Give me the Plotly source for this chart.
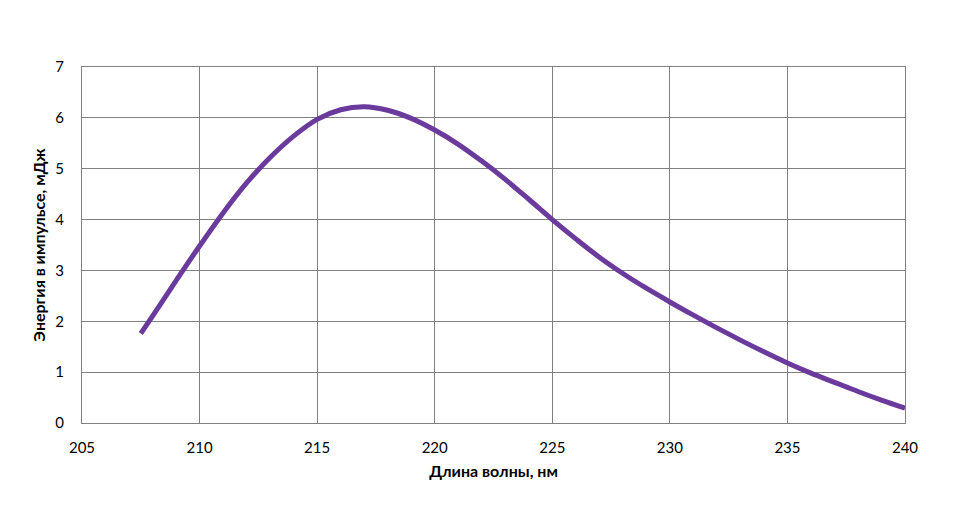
import plotly.graph_objects as go

wavelength_nm = [207.5, 208, 209, 210, 211, 212, 213, 214, 215, 216, 217, 218, 219, 220,
                 221, 222, 223, 224, 225, 226, 227, 228, 229, 230, 231, 232, 233, 234,
                 235, 236, 237, 238, 239, 240]
energy_mJ = [1.76, 2.10, 2.80, 3.48, 4.13, 4.72, 5.22, 5.64, 5.97, 6.16, 6.22, 6.15, 5.99, 5.76,
             5.48, 5.15, 4.79, 4.40, 4.00, 3.62, 3.26, 2.94, 2.65, 2.38, 2.12, 1.87, 1.63, 1.40,
             1.18, 0.98, 0.80, 0.62, 0.45, 0.29]

x_ticks = [205, 210, 215, 220, 225, 230, 235, 240]
y_ticks = [0, 1, 2, 3, 4, 5, 6, 7]

fig = go.Figure()
fig.add_trace(go.Scatter(
    x=wavelength_nm, y=energy_mJ, mode="lines",
    line=dict(color="#6A3A9C", width=5, shape="spline", smoothing=1.0),
    showlegend=False, hoverinfo="x+y"))

font_family = "Lato, 'Open Sans', sans-serif"
fig.update_layout(
    width=953, height=520,
    margin=dict(l=74, r=56, t=59, b=105, autoexpand=False),
    paper_bgcolor="white", plot_bgcolor="white",
    font=dict(family=font_family, size=15, color="#000000"),
)
fig.update_xaxes(
    range=[205, 240], tickvals=x_ticks, ticks="", ticklabelstandoff=11,
    showgrid=True, gridcolor="#808080", gridwidth=1,
    showline=True, linecolor="#808080", linewidth=1, mirror=True,
    zeroline=False, automargin=False,
    title=dict(text="<b>Длина волны, нм</b>", font=dict(size=16, family=font_family), standoff=10),
    tickfont=dict(size=15),
)
fig.update_yaxes(
    range=[0, 7], tickvals=y_ticks, ticks="", ticklabelstandoff=14,
    showgrid=True, gridcolor="#808080", gridwidth=1,
    showline=True, linecolor="#808080", linewidth=1, mirror=True,
    zeroline=False, automargin=False,
    title=dict(text="<b>Энергия в импульсе, мДж</b>", font=dict(size=16, family=font_family), standoff=5),
    tickfont=dict(size=15),
)

fig.write_html("out.html")
